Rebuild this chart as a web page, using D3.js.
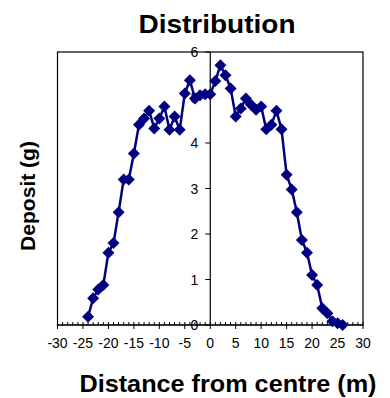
<!DOCTYPE html>
<html>
<head>
<meta charset="utf-8">
<script src="https://cdn.jsdelivr.net/npm/d3@7"></script>
<style>
body{margin:0;background:#fff;}
svg{display:block;font-family:"Liberation Sans",Arial,sans-serif;}
</style>
</head>
<body>
<svg id="chart" width="390" height="398"></svg>
<script>
const distance = [-24,-23,-22,-21,-20,-19,-18,-17,-16,-15,-14,-13,-12,-11,-10,-9,-8,-7,-6,-5,-4,-3,-2,-1,0,
  1,2,3,4,5,6,7,8,9,10,11,12,13,14,15,16,17,18,19,20,21,22,23,24,25,26];
const deposit = [0.18,0.59,0.78,0.88,1.59,1.8,2.48,3.2,3.2,3.77,4.4,4.54,4.71,4.32,4.54,4.8,4.29,4.58,4.29,5.09,5.38,4.98,5.05,5.07,5.07,
  5.36,5.71,5.49,5.2,4.58,4.76,4.98,4.84,4.73,4.8,4.3,4.4,4.71,4.3,3.3,2.98,2.48,1.87,1.59,1.1,0.88,0.37,0.26,0.08,0.04,0.0];
const xTicks = [-30,-25,-20,-15,-10,-5,0,5,10,15,20,25,30];
const yTicks = [0,1,2,3,4,5,6];
const titleText = "Distribution";
const xTitle = "Distance from centre (m)";
const yTitle = "Deposit (g)";

const svg = d3.select("#chart");
const L = 57.5, R = 363, T = 52, B = 325;
const x = d3.scaleLinear().domain([-30,30]).range([L,R]);
const y = d3.scaleLinear().domain([0,6]).range([B,T]);

// plot border
svg.append("rect").attr("x",L).attr("y",T).attr("width",R-L).attr("height",B-T)
  .attr("fill","none").attr("stroke","#000").attr("stroke-width",1.2);

// x axis at y=0
const xMinor = d3.range(-30,31,1);
const xa = svg.append("g");
xa.append("line").attr("x1",L).attr("x2",R).attr("y1",y(0)).attr("y2",y(0)).attr("stroke","#000").attr("stroke-width",1.2);
xa.selectAll("line.minor").data(xMinor.filter(v=>v%5!==0)).enter().append("line").attr("class","minor")
  .attr("x1",d=>x(d)).attr("x2",d=>x(d)).attr("y1",y(0)).attr("y2",y(0)-3).attr("stroke","#000").attr("stroke-width",1);
xa.selectAll("line.major").data(xTicks).enter().append("line").attr("class","major")
  .attr("x1",d=>x(d)).attr("x2",d=>x(d)).attr("y1",y(0)-3).attr("y2",y(0)+4).attr("stroke","#000").attr("stroke-width",1);
xa.selectAll("text").data(xTicks).enter().append("text")
  .attr("x",d=>x(d)).attr("y",348).attr("text-anchor","middle").attr("font-size",14).text(d=>d);

// y axis at x=0
const ya = svg.append("g");
ya.append("line").attr("x1",x(0)).attr("x2",x(0)).attr("y1",T).attr("y2",B).attr("stroke","#000").attr("stroke-width",1.2);
ya.selectAll("line.t").data(yTicks).enter().append("line").attr("class","t")
  .attr("x1",x(0)-5).attr("x2",x(0)).attr("y1",d=>y(d)).attr("y2",d=>y(d)).attr("stroke","#000").attr("stroke-width",1);
ya.selectAll("text").data(yTicks).enter().append("text")
  .attr("x",x(0)-12).attr("y",d=>y(d)+5).attr("text-anchor","end").attr("font-size",14).text(d=>d);

// line
const pts = distance.map((d,i)=>[d,deposit[i]]);
svg.append("path").datum(pts)
  .attr("d",d3.line().x(d=>x(d[0])).y(d=>y(d[1])))
  .attr("fill","none").attr("stroke","#000080").attr("stroke-width",2.5);
const s = 6;
svg.selectAll("path.m").data(pts).enter().append("path").attr("class","m")
  .attr("transform",d=>`translate(${x(d[0])},${y(d[1])})`)
  .attr("d",`M0,${-s}L${s},0L0,${s}L${-s},0Z`).attr("fill","#000080");

// titles
svg.append("text").attr("x",217).attr("y",33).attr("text-anchor","middle")
  .attr("font-size",25).attr("font-weight","bold")
  .attr("textLength",157).attr("lengthAdjust","spacingAndGlyphs").text(titleText);
svg.append("text").attr("x",228).attr("y",392).attr("text-anchor","middle")
  .attr("font-size",24).attr("font-weight","bold")
  .attr("textLength",297).attr("lengthAdjust","spacingAndGlyphs").text(xTitle);
svg.append("text").attr("transform","translate(35,196) rotate(-90)").attr("text-anchor","middle")
  .attr("font-size",20).attr("font-weight","bold")
  .attr("textLength",110).attr("lengthAdjust","spacingAndGlyphs").text(yTitle);
</script>
</body>
</html>
